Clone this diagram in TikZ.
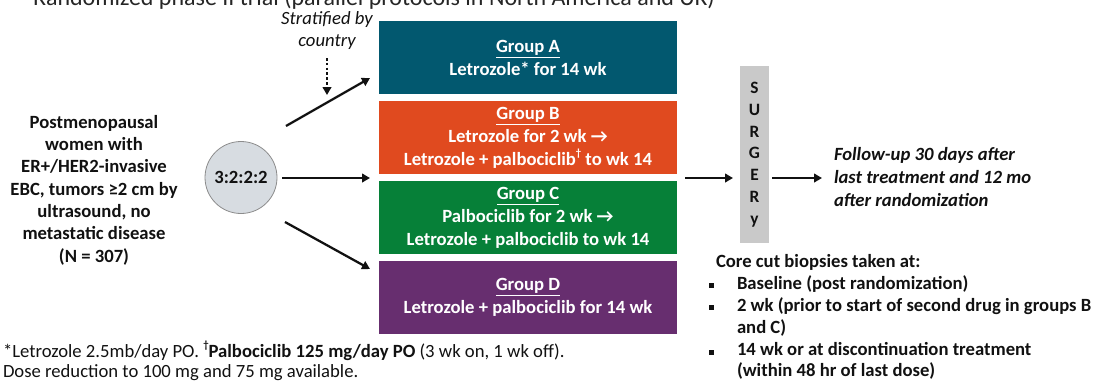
\documentclass[tikz,border=0pt]{standalone}
\usepackage{fontspec}
\setmainfont{Carlito}
\usetikzlibrary{arrows.meta}

\definecolor{grpA}{HTML}{02586F}
\definecolor{grpB}{HTML}{E04A1F}
\definecolor{grpC}{HTML}{068038}
\definecolor{grpD}{HTML}{672E6F}
\definecolor{surgfill}{HTML}{C9C9C9}
\definecolor{ratiofill}{HTML}{D7DCE1}
\definecolor{ink}{HTML}{111111}

\newcommand{\fs}[2]{\fontsize{#1}{#2}\selectfont}
\newcommand{\smalldagger}{\raisebox{0.45em}{\fontsize{8}{8}\selectfont\bfseries †}}

\begin{document}
\begin{tikzpicture}[x=0.75pt, y=-0.75pt,
  every node/.style={inner sep=0pt, outer sep=0pt, text=ink},
  grp/.style={minimum width=223.5pt, minimum height=54.75pt,
    text=white, font=\bfseries\fs{14}{17.25}, align=center},
  flow/.style={draw=ink, line width=1.7pt, -{Triangle[length=6pt,width=6.5pt]}},
  body/.style={font=\bfseries\fs{14}{16.75}},
  bullet/.style={fill=ink, minimum size=3.75pt}]

\useasboundingbox (0,0) rectangle (1093,380);

% heading line (runs past the top edge)
\node[anchor=base west, font=\fs{18}{21}, text=black!85] (title) at (33,5)
  {Randomized phase II trial (parallel protocols in North America and UK)};

% eligible population
\node[body, align=center] (pop) at (94,190)
  {Postmenopausal\\women with\\ER+/HER2-invasive\\EBC, tumors ≥2 cm by\\ultrasound, no\\metastatic disease\\(N = 307)};

% randomisation ratio
\node[circle, draw=black!45, line width=0.6pt, fill=ratiofill, minimum size=54pt,
  font=\bfseries\fs{14}{16}] (ratio) at (241,177.5) {3:2:2:2};

% stratification note
\node[align=center, font=\itshape\fs{14}{16.5}] (strat) at (327,31)
  {Stratified by\\country};
\coordinate (stratA) at (327,58);
\coordinate (stratB) at (327,95);
\draw[draw=ink, line width=1.7pt, dash pattern=on 2pt off 1.6pt,
  -{Triangle[length=6pt,width=6.5pt]}] (stratA) -- (stratB);

% treatment groups
\node[grp, fill=grpA] (ga) at (528,57.5)
  {\underline{Group A}\\Letrozole* for 14 wk};
\node[grp, fill=grpB] (gb) at (528,137.5)
  {\underline{Group B}\\Letrozole for 2 wk →\\Letrozole + palbociclib\smalldagger{} to wk 14};
\node[grp, fill=grpC] (gc) at (528,217.5)
  {\underline{Group C}\\Palbociclib for 2 wk →\\Letrozole + palbociclib to wk 14};
\node[grp, fill=grpD] (gd) at (528,297.5)
  {\underline{Group D}\\Letrozole + palbociclib for 14 wk};

% arms from the ratio circle
\coordinate (r1) at (286,126);  \coordinate (t1) at (370,78);
\coordinate (r2) at (282,178);  \coordinate (t2) at (370,178);
\coordinate (r3) at (285,222);  \coordinate (t3) at (370,269);
\draw[flow] (r1) -- (t1);
\draw[flow] (r2) -- (t2);
\draw[flow] (r3) -- (t3);

% surgery column
\node[fill=surgfill, minimum width=21.75pt, minimum height=132.75pt,
  align=center, font=\bfseries\fs{13}{16.3}] (surg) at (754.5,154.5)
  {S\\U\\R\\G\\E\\R\\y};
\coordinate (s1) at (685,178);
\coordinate (s1b) at (733,178);
\coordinate (s2) at (772,178);
\coordinate (f1) at (822,178);
\draw[flow] (s1) -- (s1b);
\draw[flow] (s2) -- (f1);

% follow-up
\node[anchor=west, align=left, font=\bfseries\itshape\fs{14}{16.9}] (follow) at (834,177)
  {Follow-up 30 days after\\last treatment and 12 mo\\after randomization};

% biopsy schedule
\node[anchor=base west, body] (bhead) at (716,267.5) {Core cut biopsies taken at:};
\node[bullet] (b1) at (711.8,285.5) {};
\node[bullet] (b2) at (711.8,307.5) {};
\node[bullet] (b3) at (711.8,352) {};
\node[anchor=base west, body] (i1) at (737,289.5) {Baseline (post randomization)};
\node[anchor=base west, body] (i2) at (737,311.5) {2 wk (prior to start of second drug in groups B};
\node[anchor=base west, body] (i2b) at (737,333.5) {and C)};
\node[anchor=base west, body] (i3) at (737,355.5) {14 wk or at discontinuation treatment};
\node[anchor=base west, body] (i3b) at (737,376) {(within 48 hr of last dose)};

% footnote
\node[anchor=base west, font=\fs{14}{16}] (fn1) at (3,357)
  {*Letrozole 2.5mb/day PO. \smalldagger\textbf{Palbociclib 125 mg/day PO} (3 wk on, 1 wk off).};
\node[anchor=base west, font=\fs{14}{16}] (fn2) at (3,377.5)
  {Dose reduction to 100 mg and 75 mg available.};
\end{tikzpicture}
\end{document}
